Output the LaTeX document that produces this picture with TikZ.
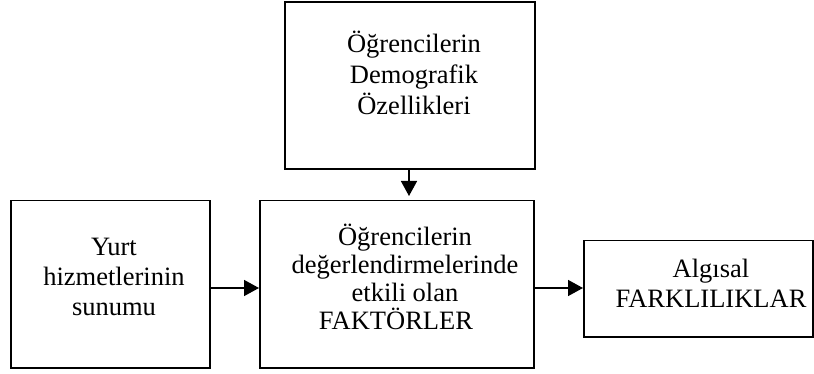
\documentclass[tikz,border=0pt]{standalone}
\usepackage{fontspec}
\setmainfont{Liberation Serif}
\usetikzlibrary{arrows.meta}
\begin{document}
\begin{tikzpicture}[x=1pt,y=-1pt,
  box/.style={draw=black,line width=1.5pt,inner sep=0pt,anchor=north west},
  txt/.style={anchor=base,inner sep=0pt,align=center,font=\fontsize{26.5}{#1}\selectfont},
  conn/.style={line width=1.5pt,-{Triangle[length=15pt,width=16pt]}}]
\useasboundingbox (0,0) rectangle (814,374);
\node[box,minimum width=250pt,minimum height=167pt] (top) at (284,1.3) {};
\node[box,minimum width=274pt,minimum height=167pt] (mid) at (259,200) {};
\node[box,minimum width=199pt,minimum height=167pt] (left) at (10,200) {};
\node[box,minimum width=229pt,minimum height=96pt] (right) at (583,240) {};
\node[txt=31pt] (toptext) at (414,115) {Öğrencilerin\\Demografik\\Özellikleri};
\node[txt=28pt] (midtext) at (405,329) {Öğrencilerin\\değerlendirmelerinde\\etkili olan\\FAKTÖRLER\hspace*{18pt}};
\node[txt=30pt] (lefttext) at (114,315) {Yurt\\hizmetlerinin\\sunumu};
\node[txt=30pt] (righttext) at (711,307) {Algısal\\FARKLILIKLAR};
\draw[conn,shorten >=4pt] (top.south -| 409,0) -- (mid.north -| 409,0);
\draw[conn] (left.east |- 0,288) -- (mid.west |- 0,288);
\draw[conn] (mid.east |- 0,288) -- (right.west |- 0,288);
\end{tikzpicture}
\end{document}
